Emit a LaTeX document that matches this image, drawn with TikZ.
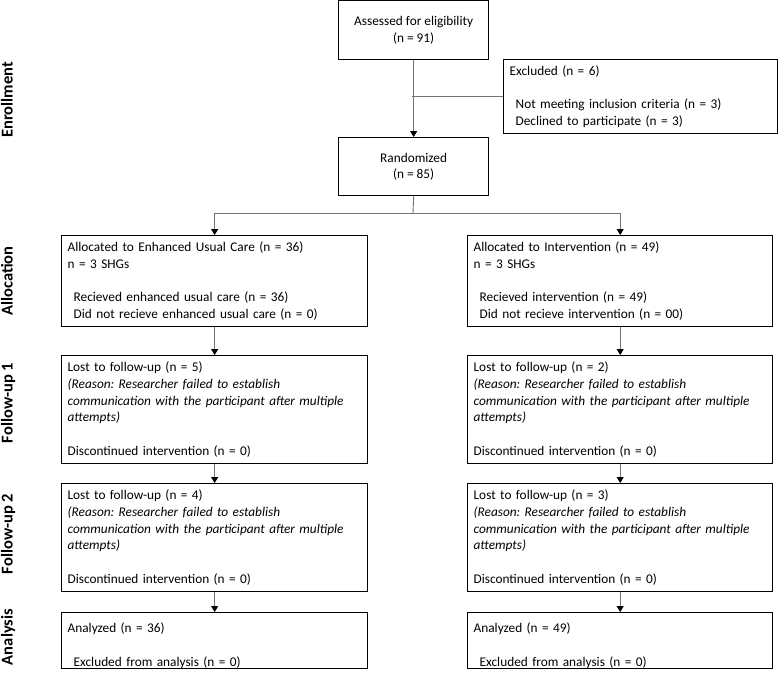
\documentclass[tikz,border=0pt]{standalone}
\usepackage{fontspec}
\setmainfont{Carlito}
\usetikzlibrary{arrows.meta}
\frenchspacing
\begin{document}
\begin{tikzpicture}[x=1pt,y=-1pt,
  box/.style={draw=black,line width=1.3pt,rectangle,inner xsep=6pt,inner ysep=0pt,
    anchor=north west,font=\fontsize{13.3}{16.7}\selectfont},
  lbox/.style={box,align=left},
  cbox/.style={box,align=center},
  conn/.style={draw=black!55,line width=0.9pt},
  arr/.style={conn,-{Triangle[width=7pt,length=6pt,color=black]}},
  side/.style={rotate=90,anchor=base,font=\fontsize{16.5}{19}\selectfont\bfseries}]
\useasboundingbox (0,0) rectangle (778,678);
\fill[white] (0,0) rectangle (778,678);

% side labels
\node[side] (lenr) at (12.7,100) {Enrollment};
\node[side] (lall) at (12.7,281) {Allocation};
\node[side] (lfu1) at (12.7,403) {Follow-up 1};
\node[side] (lfu2) at (12.7,534) {Follow-up 2};
\node[side] (lana) at (12.7,637) {Analysis};

% enrollment
\node[cbox,minimum width=150pt,minimum height=59pt] (assess) at (338,0)
  {Assessed for eligibility\\(n = 91)};
\node[lbox,minimum width=274pt,minimum height=74pt,text width=262pt] (excl) at (503,59)
  {Excluded (n = 6)\\[16.7pt]
   \hspace*{6pt}Not meeting inclusion criteria (n = 3)\\
   \hspace*{6pt}Declined to participate (n = 3)};
\node[cbox,minimum width=150pt,minimum height=58pt] (rand) at (338,137)
  {Randomized\\(n = 85)};

% allocation
\node[lbox,minimum width=306pt,minimum height=91pt,text width=294pt] (allocL) at (61,235)
  {Allocated to Enhanced Usual Care (n = 36)\\
   n = 3 SHGs\\[16.7pt]
   \hspace*{6pt}Recieved enhanced usual care (n = 36)\\
   \hspace*{6pt}Did not recieve enhanced usual care (n = 0)};
\node[lbox,minimum width=305pt,minimum height=91pt,text width=293pt] (allocR) at (467,235)
  {Allocated to Intervention (n = 49)\\
   n = 3 SHGs\\[16.7pt]
   \hspace*{6pt}Recieved intervention (n = 49)\\
   \hspace*{6pt}Did not recieve intervention (n = 00)};

% follow-up 1
\node[lbox,minimum width=306pt,minimum height=108pt,text width=294pt] (fu1L) at (61,355)
  {Lost to follow-up (n = 5)\\
   \textit{(Reason: Researcher failed to establish}\\
   \textit{communication with the participant after multiple}\\
   \textit{attempts)}\\[16.7pt]
   Discontinued intervention (n = 0)};
\node[lbox,minimum width=305pt,minimum height=108pt,text width=293pt] (fu1R) at (467,355)
  {Lost to follow-up (n = 2)\\
   \textit{(Reason: Researcher failed to establish}\\
   \textit{communication with the participant after multiple}\\
   \textit{attempts)}\\[16.7pt]
   Discontinued intervention (n = 0)};

% follow-up 2
\node[lbox,minimum width=306pt,minimum height=108pt,text width=294pt] (fu2L) at (61,483)
  {Lost to follow-up (n = 4)\\
   \textit{(Reason: Researcher failed to establish}\\
   \textit{communication with the participant after multiple}\\
   \textit{attempts)}\\[16.7pt]
   Discontinued intervention (n = 0)};
\node[lbox,minimum width=305pt,minimum height=108pt,text width=293pt] (fu2R) at (467,483)
  {Lost to follow-up (n = 3)\\
   \textit{(Reason: Researcher failed to establish}\\
   \textit{communication with the participant after multiple}\\
   \textit{attempts)}\\[16.7pt]
   Discontinued intervention (n = 0)};

% analysis
\node[lbox,minimum width=306pt,minimum height=56pt,text width=294pt] (anaL) at (61,612)
  {\rule{0pt}{20pt}Analyzed (n = 36)\\[16.7pt]
   \hspace*{6pt}Excluded from analysis (n = 0)};
\node[lbox,minimum width=305pt,minimum height=56pt,text width=293pt] (anaR) at (467,612)
  {\rule{0pt}{20pt}Analyzed (n = 49)\\[16.7pt]
   \hspace*{6pt}Excluded from analysis (n = 0)};

% connectors
\draw[arr] (assess.south) -- (rand.north);
\coordinate (exj) at ([xshift=-2pt]assess.south |- excl.west);
\draw[conn] (exj) -- (excl.west);
\coordinate (split) at (413,213);
\draw[conn] (rand.south) -- (split);
\draw[arr] (split) -| (allocL.north);
\draw[arr] (split) -| (allocR.north);
\draw[arr] (allocL.south) -- (fu1L.north);
\draw[arr] (allocR.south) -- (fu1R.north);
\draw[arr] (fu1L.south) -- (fu2L.north);
\draw[arr] (fu1R.south) -- (fu2R.north);
\draw[arr] (fu2L.south) -- (anaL.north);
\draw[arr] (fu2R.south) -- (anaR.north);
\end{tikzpicture}
\end{document}
